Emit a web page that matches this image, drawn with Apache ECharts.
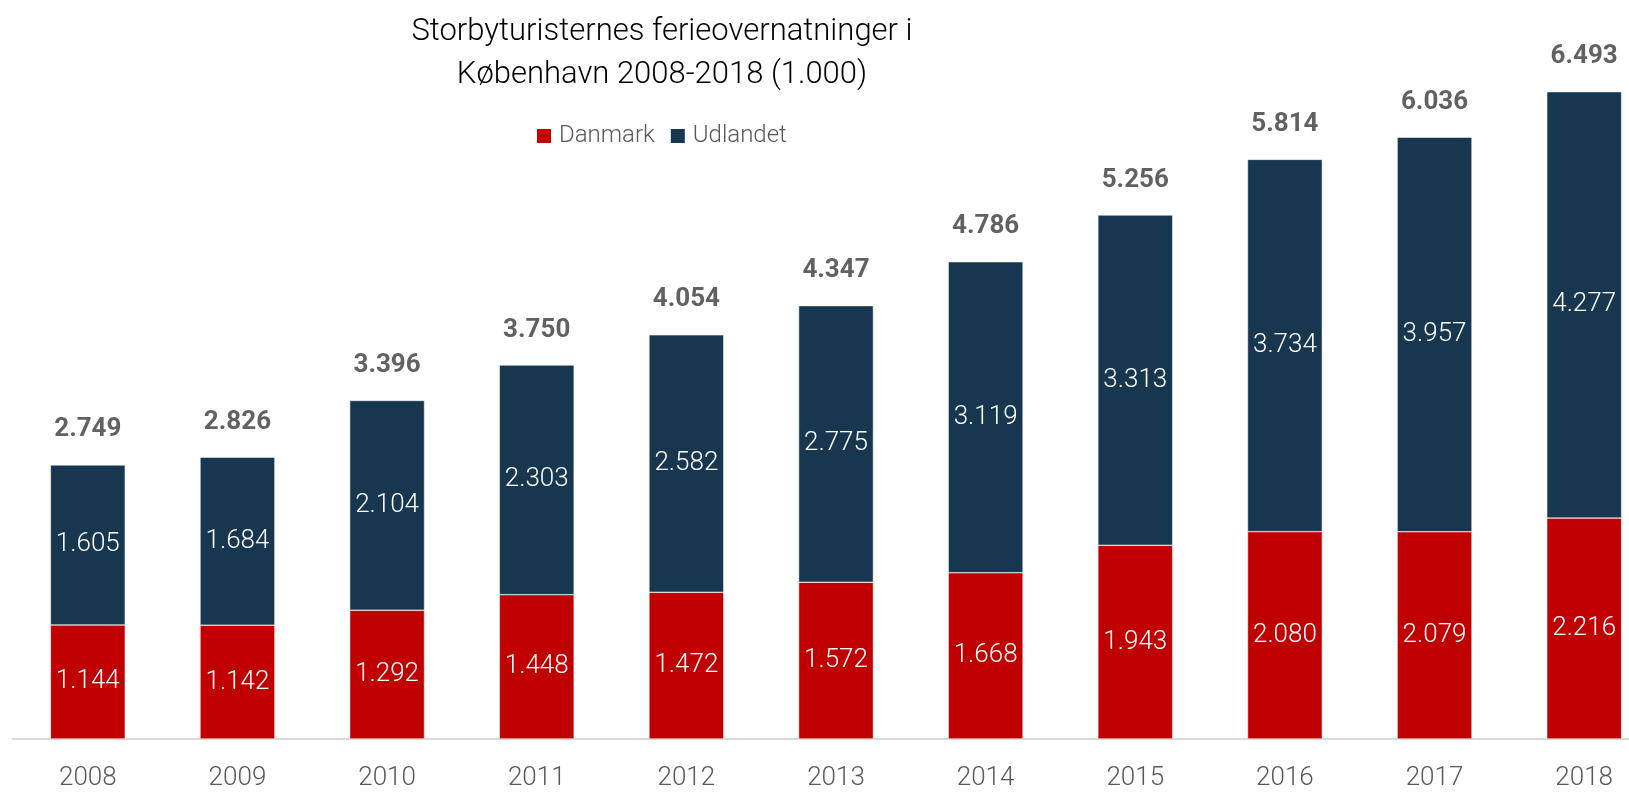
<!DOCTYPE html>
<html><head><meta charset="utf-8">
<script src="https://cdn.jsdelivr.net/npm/echarts@6/dist/echarts.min.js"></script>
<style>html,body{margin:0;padding:0;background:#fff}#c{width:1629px;height:792px}</style>
</head><body><div id="c"></div>
<script>
const years = ['2008','2009','2010','2011','2012','2013','2014','2015','2016','2017','2018'];
const danmark = [1144,1142,1292,1448,1472,1572,1668,1943,2080,2079,2216];
const udlandet = [1605,1684,2104,2303,2582,2775,3119,3313,3734,3957,4277];
const totals = [2749,2826,3396,3750,4054,4347,4786,5256,5814,6036,6493];

const FONT = 'Roboto';
const fmt = v => {
  const s = String(Math.round(v));
  return s.replace(/\B(?=(\d{3})+(?!\d))/g, '.');
};
const chart = echarts.init(document.getElementById('c'));
chart.setOption({
  animation: false,
  textStyle: {fontFamily: FONT},
  title: {
    text: 'Storbyturisternes ferieovernatninger i\nKøbenhavn 2008-2018 (1.000)',
    left: 657, top: 6, textAlign: 'center',
    textStyle: {fontFamily: FONT, fontSize: 31, fontWeight: 300, color: '#000', lineHeight: 43}
  },
  legend: {
    data: ['Danmark','Udlandet'],
    left: 530, top: 119,
    itemWidth: 16, itemHeight: 16, itemGap: 14,
    icon: 'rect',
    textStyle: {fontFamily: FONT, fontSize: 24, fontWeight: 300, color: '#595959', padding: [0,0,0,2]}
  },
  grid: {left: 13, width: 1646, top: 91, bottom: 53, containLabel: false, outerBoundsMode: 'none'},
  xAxis: {
    type: 'category', data: years,
    axisLine: {lineStyle: {color: '#d9d9d9', width: 2}},
    axisTick: {show: false},
    axisLabel: {fontFamily: FONT, fontSize: 26, fontWeight: 300, color: '#595959', margin: 26}
  },
  yAxis: {type: 'value', min: 0, max: 6500, show: false, splitLine: {show: false}},
  series: [
    {name: 'Danmark', type: 'bar', stack: 's', data: danmark, barWidth: '50%',
     itemStyle: {color: '#C00000', borderColor: '#fff', borderWidth: 0.5},
     label: {show: true, position: 'inside', color: '#fff', fontFamily: FONT, fontSize: 26, fontWeight: 300,
             formatter: p => fmt(p.value)}},
    {name: 'Udlandet', type: 'bar', stack: 's', data: udlandet, barWidth: '50%',
     itemStyle: {color: '#17364F', borderColor: '#fff', borderWidth: 0.5},
     label: {show: true, position: 'inside', color: '#fff', fontFamily: FONT, fontSize: 26, fontWeight: 300,
             formatter: p => fmt(p.value)}},
    {name: 'Total', type: 'scatter', data: totals, symbolSize: 0, silent: true,
     label: {show: true, position: 'top', distance: 22, color: '#3a3a3a', fontFamily: FONT, fontSize: 26, fontWeight: 'bold',
             formatter: p => fmt(p.value)}}
  ]
});
</script></body></html>
